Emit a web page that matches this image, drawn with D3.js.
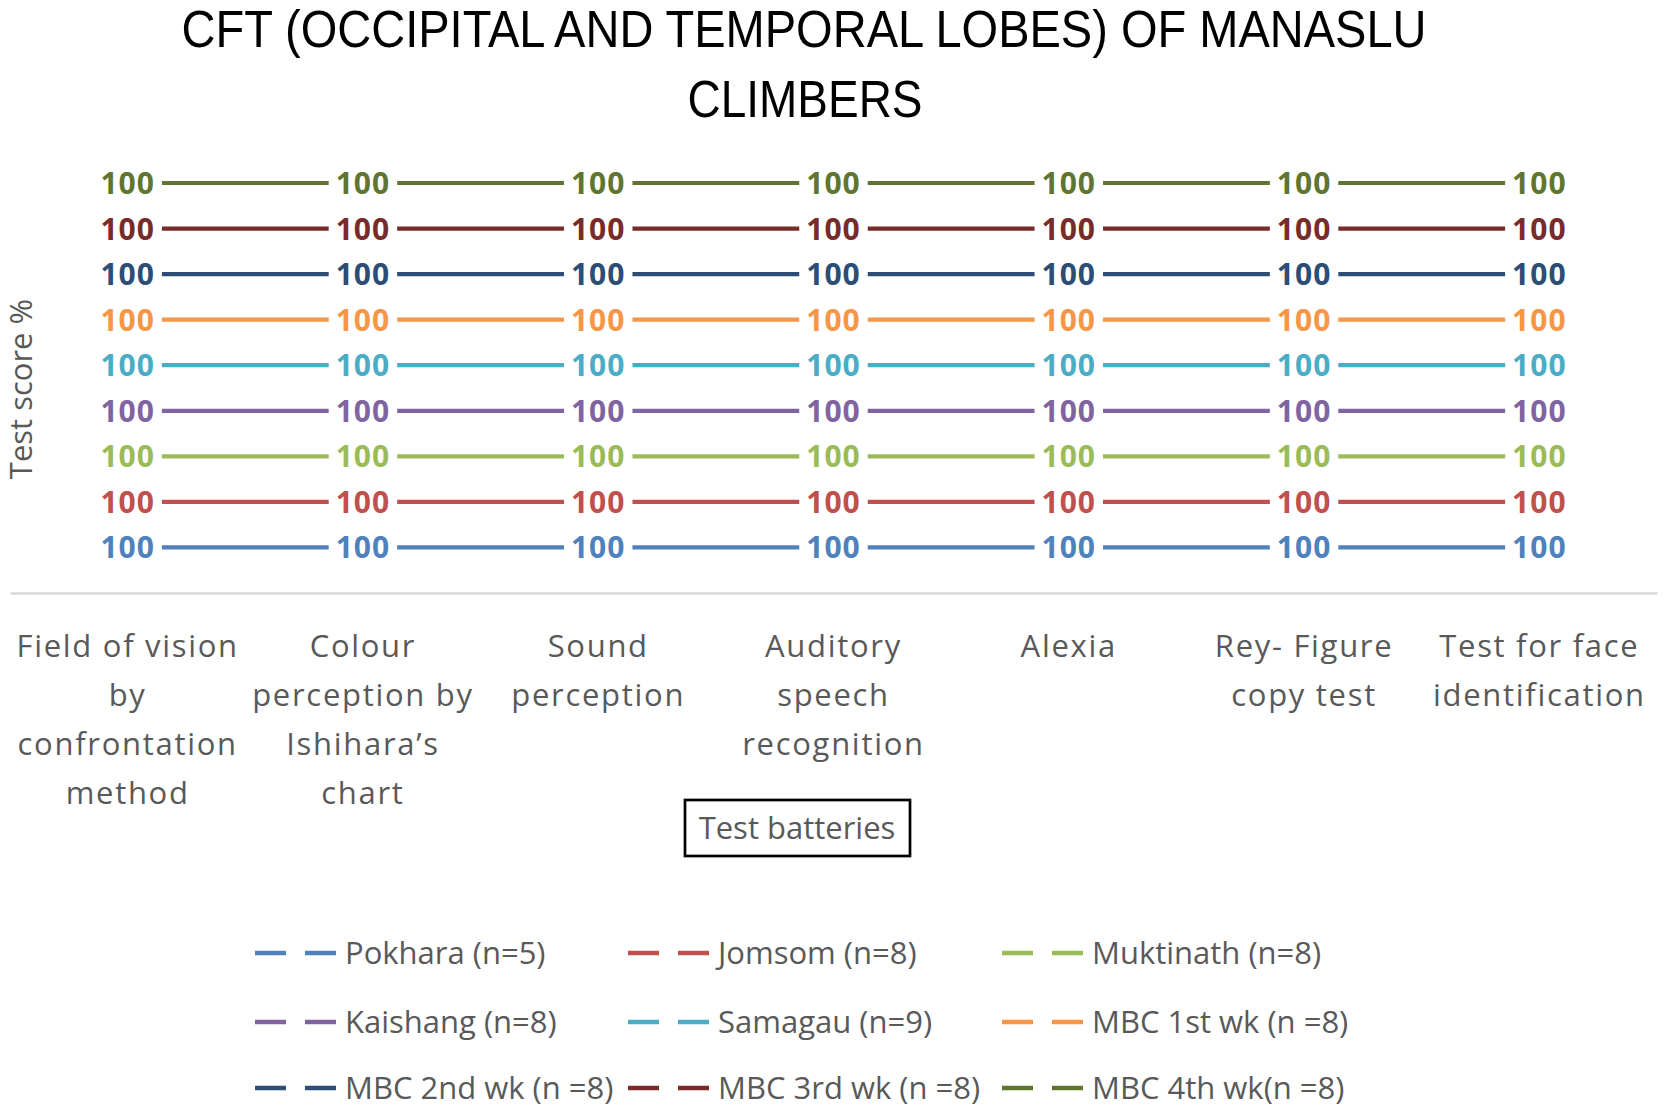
<!DOCTYPE html>
<html>
<head>
<meta charset="utf-8">
<script src="https://cdn.jsdelivr.net/npm/d3@7/dist/d3.min.js"></script>
<style>
  html, body { margin: 0; padding: 0; background: #fff; }
  svg { display: block; font-family: "Open Sans", "Noto Sans", sans-serif; }
</style>
</head>
<body>
<svg id="chart" width="1665" height="1111"></svg>
<script>
// ---- data ----
const categories = [
  "Field of vision by confrontation method",
  "Colour perception by Ishihara’s chart",
  "Sound perception",
  "Auditory speech recognition",
  "Alexia",
  "Rey- Figure copy test",
  "Test for face identification"
];
const categoryLines = [
  ["Field of vision", "by", "confrontation", "method"],
  ["Colour", "perception by", "Ishihara’s", "chart"],
  ["Sound", "perception"],
  ["Auditory", "speech", "recognition"],
  ["Alexia"],
  ["Rey- Figure", "copy test"],
  ["Test for face", "identification"]
];
const seriesNames = [
  "Pokhara (n=5)", "Jomsom (n=8)", "Muktinath (n=8)",
  "Kaishang (n=8)", "Samagau (n=9)", "MBC 1st wk (n =8)",
  "MBC 2nd wk (n =8)", "MBC 3rd wk (n =8)", "MBC 4th wk(n =8)"
];
const seriesColors = [
  "#4F81BD", "#C0504D", "#9BBB59",
  "#8064A2", "#4BACC6", "#F79646",
  "#2C4D75", "#772C2A", "#5F7530"
];
const pokhara   = [100, 100, 100, 100, 100, 100, 100];
const jomsom    = [100, 100, 100, 100, 100, 100, 100];
const muktinath = [100, 100, 100, 100, 100, 100, 100];
const kaishang  = [100, 100, 100, 100, 100, 100, 100];
const samagau   = [100, 100, 100, 100, 100, 100, 100];
const mbc1      = [100, 100, 100, 100, 100, 100, 100];
const mbc2      = [100, 100, 100, 100, 100, 100, 100];
const mbc3      = [100, 100, 100, 100, 100, 100, 100];
const mbc4      = [100, 100, 100, 100, 100, 100, 100];
const seriesValues = [pokhara, jomsom, muktinath, kaishang, samagau, mbc1, mbc2, mbc3, mbc4];

const titleLines = ["CFT (OCCIPITAL AND TEMPORAL LOBES) OF MANASLU", "CLIMBERS"];
const yTitle = "Test score %";
const xTitle = "Test batteries";

// ---- build table & stack ----
const table = categories.map((c, i) => {
  const row = { category: c };
  seriesNames.forEach((s, j) => { row[s] = seriesValues[j][i]; });
  return row;
});
const stacked = d3.stack().keys(seriesNames)(table);

const svg = d3.select("#chart");

const x = d3.scalePoint().domain(categories).range([10, 1657]).padding(0.5);
const yMax = d3.max(stacked[stacked.length - 1], d => d[1]);
const y = d3.scaleLinear().domain([0, yMax]).range([593, 183]);

// ---- title ----
const titleG = svg.append("g")
  .attr("font-family", "'Liberation Sans', Arial, sans-serif");
titleG.append("text")
  .attr("x", 804).attr("y", 47)
  .attr("text-anchor", "middle")
  .attr("font-size", 52).attr("fill", "#000")
  .attr("textLength", 1245).attr("lengthAdjust", "spacingAndGlyphs")
  .text(titleLines[0]);
titleG.append("text")
  .attr("x", 805).attr("y", 117)
  .attr("text-anchor", "middle")
  .attr("font-size", 52).attr("fill", "#000")
  .attr("textLength", 235).attr("lengthAdjust", "spacingAndGlyphs")
  .text(titleLines[1]);

// ---- x axis line ----
const axis = d3.axisBottom(x).tickSize(0).tickFormat("");
const axG = svg.append("g").attr("transform", `translate(0,${y(0)})`).call(axis);
axG.select(".domain").attr("stroke", "#D9D9D9").attr("stroke-width", 2.5);

// category labels
categoryLines.forEach((lines, i) => {
  const t = svg.append("text")
    .attr("text-anchor", "middle")
    .attr("font-size", 31)
    .attr("letter-spacing", 1.7)
    .attr("fill", "#595959");
  lines.forEach((ln, k) => {
    t.append("tspan")
      .attr("x", x(categories[i]))
      .attr("y", 657 + k * 49)
      .text(ln);
  });
});

// ---- lines ----
const line = d3.line()
  .x(d => x(d.data.category))
  .y(d => y(d[1]));

svg.append("g").selectAll("path")
  .data(stacked)
  .join("path")
  .attr("d", d => line(d))
  .attr("fill", "none")
  .attr("stroke", (d, i) => seriesColors[i])
  .attr("stroke-width", 4.2);

// ---- data labels ----
const labG = svg.append("g");
stacked.forEach((s, i) => {
  s.forEach((d, k) => {
    const g = labG.append("g");
    const cx = x(d.data.category), cy = y(d[1]);
    const t = g.append("text")
      .attr("x", cx).attr("y", cy + 11)
      .attr("text-anchor", "middle")
      .attr("font-size", 30)
      .attr("font-weight", "bold")
      .attr("letter-spacing", 1)
      .attr("fill", seriesColors[i])
      .text(seriesValues[i][k]);
    const bb = t.node().getBBox();
    g.insert("rect", "text")
      .attr("x", cx - bb.width / 2 - 7)
      .attr("y", cy - 12)
      .attr("width", bb.width + 14)
      .attr("height", 24)
      .attr("fill", "#fff");
  });
});

// ---- axis titles ----
svg.append("text")
  .attr("transform", "translate(32,389) rotate(-90)")
  .attr("text-anchor", "middle")
  .attr("font-size", 31)
  .attr("fill", "#595959")
  .text(yTitle);

const xtG = svg.append("g");
xtG.append("rect")
  .attr("x", 685).attr("y", 800)
  .attr("width", 225).attr("height", 56)
  .attr("fill", "#fff").attr("stroke", "#000").attr("stroke-width", 2.7);
xtG.append("text")
  .attr("x", 797).attr("y", 839)
  .attr("text-anchor", "middle")
  .attr("font-size", 31)
  .attr("fill", "#595959")
  .text(xTitle);

// ---- legend ----
const legCols = [255, 628, 1002];
const legRows = [953, 1022, 1088];
const legG = svg.append("g");
seriesNames.forEach((name, i) => {
  const cx = legCols[i % 3], cy = legRows[Math.floor(i / 3)];
  const g = legG.append("g").attr("transform", `translate(${cx},${cy})`);
  g.append("line")
    .attr("x1", 0).attr("x2", 82).attr("y1", 0).attr("y2", 0)
    .attr("stroke", seriesColors[i]).attr("stroke-width", 4.5)
    .attr("stroke-dasharray", "31,19");
  g.append("text")
    .attr("x", 90).attr("y", 11)
    .attr("font-size", 31)
    .attr("fill", "#595959")
    .text(name);
});
</script>
</body>
</html>
